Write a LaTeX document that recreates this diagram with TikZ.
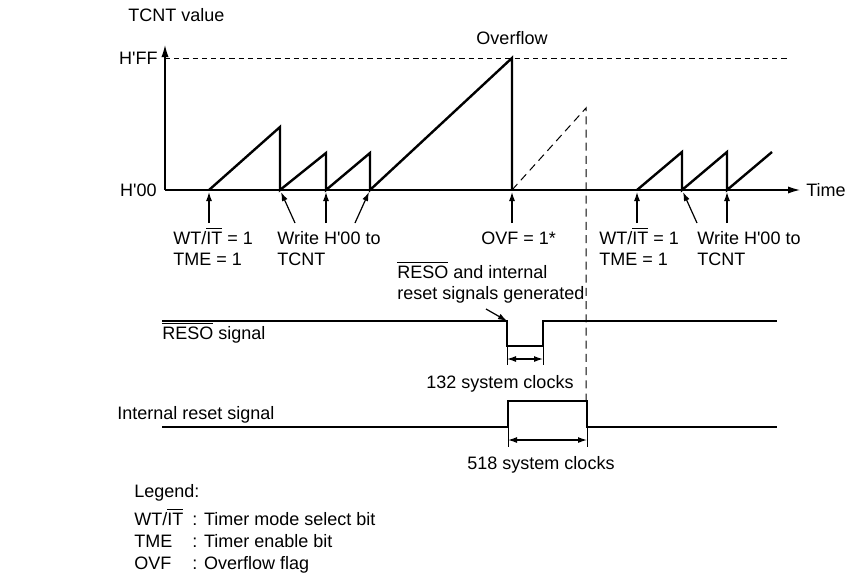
\documentclass[tikz,border=0pt]{standalone}
\usepackage{fontspec}
\setmainfont{Liberation Sans}
\usetikzlibrary{arrows.meta}
\tikzset{
  wave/.style={line width=1.2pt, line join=miter},
  axisline/.style={line width=0.6pt, -{Latex[length=6pt, width=3.6pt]}},
  guide/.style={line width=0.5pt, dash pattern=on 2.6pt off 2pt},
  longdash/.style={line width=0.5pt, dash pattern=on 4pt off 2.6pt},
  pointer/.style={line width=0.6pt, -{Latex[length=4.5pt, width=3pt]}},
  dimline/.style={line width=0.6pt, {Latex[length=4.5pt, width=3pt]}-{Latex[length=4.5pt, width=3pt]}},
  txt/.style={font=\fontsize{9}{10.5}\selectfont, inner sep=0pt, anchor=base west}
}
\newcommand{\ovl}[1]{$\overline{\mbox{#1}}$}
\newcommand{\hx}[1]{H\textquotesingle#1}
\begin{document}
\begin{tikzpicture}[x=0.5pt, y=-0.5pt]
  \useasboundingbox (0,0) rectangle (847,573);
  % axes
  \coordinate (o) at (165,190);
  \coordinate (ytop) at (165,45);
  \coordinate (xend) at (800,190);
  \coordinate (ffl) at (165,58);
  \coordinate (ffr) at (790,58);
  \draw[axisline] (o) -- (ytop);
  \draw[axisline] (o) -- (xend);
  \draw[guide] (ffl) -- (ffr);
  \node[txt] (tcnt) at (128,21) {TCNT value};
  \node[txt, anchor=base east] (hff) at (158,64) {\hx{FF}};
  \node[txt, anchor=base east] (h00) at (157,196) {\hx{00}};
  \node[txt, anchor=base] (ovfl) at (512,44) {Overflow};
  \node[txt] (time) at (806,196) {Time};
  % counter
  \draw[wave] (209,190) -- (280,127) -- (280,190) -- (326,153) -- (326,190)
    -- (370,153) -- (370,190) -- (512,58) -- (512,190);
  \draw[wave] (637,190) -- (682,152) -- (682,190) -- (727,152) -- (727,190) -- (772,152);
  \coordinate (ovfpt) at (512,190);
  \coordinate (wdt) at (586,108);
  \coordinate (wdb) at (586,401);
  \draw[longdash] (ovfpt) -- (wdt) -- (wdb);
  % pointers
  \foreach \n/\tx/\px in {a/209/209, b/295/281, c/326/326, d/355/369, e/512/512,
                          f/637/637, g/697/683, h/727/727} {
    \coordinate (t\n) at (\tx,223);
    \coordinate (h\n) at (\px,192);
    \draw[pointer] (t\n) -- (h\n);
  }
  \node[txt] (wt1) at (173,244) {WT/\ovl{IT} = 1};
  \node[txt] (tme1) at (173,265) {TME = 1};
  \node[txt] (wr1) at (277,244) {Write \hx{00} to};
  \node[txt] (tc1) at (277,265) {TCNT};
  \node[txt] (ovf) at (481,244) {OVF = 1*};
  \node[txt] (wt2) at (599,244) {WT/\ovl{IT} = 1};
  \node[txt] (tme2) at (599,265) {TME = 1};
  \node[txt] (wr2) at (697,244) {Write \hx{00} to};
  \node[txt] (tc2) at (697,265) {TCNT};
  \node[txt] (gen1) at (397,278) {\ovl{RESO} and internal};
  \node[txt] (gen2) at (397,299) {reset signals generated};
  % reset outputs
  \coordinate (rs) at (507,321);
  \coordinate (re) at (543,321);
  \draw[wave] (162,321) -- (rs) -- (507,346) -- (543,346) -- (re) -- (777,321);
  \draw[pointer] (486,309) -- (rs);
  \node[txt] (resosig) at (162,339) {\ovl{RESO} signal};
  \draw[line width=0.5pt] (507,346) -- (507,365) (543,346) -- (543,365);
  \draw[dimline] (507,359) -- (543,359);
  \node[txt, anchor=base] (c132) at (500,388) {132 system clocks};
  \coordinate (is) at (508,427);
  \coordinate (ie) at (587,427);
  \draw[wave] (162,427) -- (is) -- (508,401) -- (587,401) -- (ie) -- (777,427);
  \node[txt] (intsig) at (117,419) {Internal reset signal};
  \draw[line width=0.5pt] (is) -- (508,447) (ie) -- (587,447);
  \draw[dimline] (508,440) -- (587,440);
  \node[txt, anchor=base] (c518) at (541,469) {518 system clocks};
  % legend
  \node[txt] (leg) at (134,497) {Legend:};
  \node[txt] (lwt) at (134,525) {WT/\ovl{IT}};
  \node[txt] (lwtd) at (192,525) {: Timer mode select bit};
  \node[txt] (ltme) at (134,547) {TME};
  \node[txt] (ltmed) at (192,547) {: Timer enable bit};
  \node[txt] (lovf) at (134,569) {OVF};
  \node[txt] (lovfd) at (192,569) {: Overflow flag};
\end{tikzpicture}
\end{document}
